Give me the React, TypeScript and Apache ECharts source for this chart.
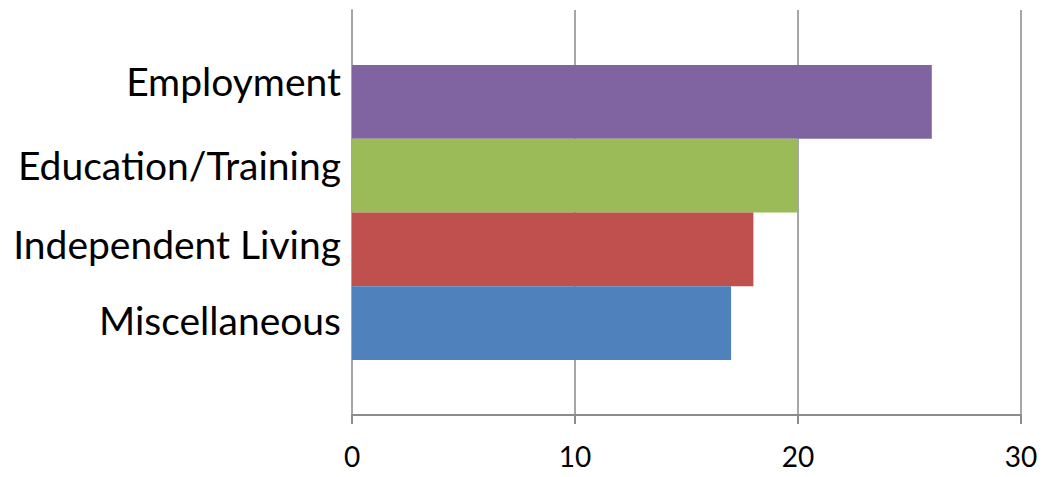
import React, { useEffect, useRef } from "react";
import * as echarts from "echarts";

// Categories listed top-to-bottom as they appear in the chart
const categories = ["Employment", "Education/Training", "Independent Living", "Miscellaneous"];
const values = [26, 20, 18, 17];
const colors = ["#8064A2", "#9BBB59", "#C0504D", "#4F81BD"];
const labelShift = [-21, -11, -5, -3];
const xTicks = [0, 10, 20, 30];

export default function App() {
  const ref = useRef<HTMLDivElement>(null);

  useEffect(() => {
    if (!ref.current) return;
    const chart = echarts.init(ref.current, null, { renderer: "svg" });
    const font = "Lato, 'Open Sans', sans-serif";

    chart.setOption({
      animation: false,
      grid: { left: 352, right: 27, top: 10, bottom: 62, containLabel: false },
      xAxis: {
        type: "value",
        min: xTicks[0],
        max: xTicks[xTicks.length - 1],
        interval: 10,
        axisLine: { show: true, lineStyle: { color: "#8c8c8c", width: 2 } },
        axisTick: { show: true, length: 9, lineStyle: { color: "#8c8c8c", width: 2 } },
        splitLine: { show: true, lineStyle: { color: "#a6a6a6", width: 2 } },
        axisLabel: { color: "#000", fontSize: 28, fontFamily: font, margin: 27 },
      },
      yAxis: {
        type: "category",
        data: [""],
        axisLine: { show: true, lineStyle: { color: "#a6a6a6", width: 2 } },
        axisTick: { show: false },
        axisLabel: { show: false },
      },
      series: categories.map((name, i) => ({
        name,
        type: "bar",
        data: [values[i]],
        barGap: "0%",
        barCategoryGap: "27.2%",
        itemStyle: { color: colors[i] },
        label: {
          show: true,
          position: "left",
          distance: 11,
          offset: [0, labelShift[i]],
          formatter: "{a}",
          color: "#000",
          fontSize: 39,
          fontFamily: font,
        },
      })),
    });

    return () => chart.dispose();
  }, []);

  return <div ref={ref} style={{ width: 1048, height: 477, position: "absolute", left: 0, top: 0 }} />;
}
